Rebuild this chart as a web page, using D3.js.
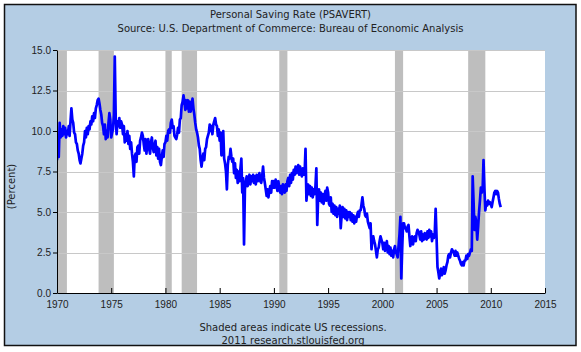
<!DOCTYPE html>
<html>
<head>
<meta charset="utf-8">
<script src="https://cdn.jsdelivr.net/npm/d3@7"></script>
<style>
  body { margin: 0; background: #fff; }
  svg { display: block; font-family: "DejaVu Sans", sans-serif; }
</style>
</head>
<body>
<svg id="chart" width="581" height="352"></svg>
<script>
// monthly personal saving rate, Jan 1970 .. Dec 2010
const startYear = 1970
const saving = [
  // 1970
  8.2, 9.6, 8.4, 10.5, 9.6, 10.1, 9.7, 10.3, 9.8, 10.2, 9.6, 10.0,
  // 1971
  9.8, 10.3, 9.7, 10.6, 11.4, 10.7, 10.5, 9.9, 9.8, 9.3, 9.2, 8.8,
  // 1972
  8.6, 8.2, 8.0, 8.3, 8.6, 9.1, 9.3, 10.0, 9.6, 10.2, 9.8, 10.3,
  // 1973
  10.1, 10.6, 10.4, 10.9, 10.6, 11.1, 10.8, 11.4, 11.6, 11.9, 12.0, 11.7,
  // 1974
  11.3, 11.0, 10.5, 10.3, 9.8, 10.4, 9.5, 10.0, 9.6, 10.5, 11.1, 10.7,
  // 1975
  9.6, 9.9, 10.1, 11.0, 14.6, 10.8, 9.8, 10.6, 10.3, 10.8, 10.2, 10.6,
  // 1976
  10.4, 9.8, 10.3, 9.3, 9.8, 9.4, 10.0, 9.2, 9.7, 8.9, 9.3, 8.6,
  // 1977
  8.1, 7.2, 8.4, 8.6, 8.1, 9.0, 9.1, 8.6, 9.4, 9.6, 9.9, 9.7,
  // 1978
  9.2, 8.8, 9.5, 8.6, 9.2, 9.5, 8.9, 8.6, 9.3, 9.6, 9.0, 8.7,
  // 1979
  9.1, 9.4, 8.5, 9.0, 8.3, 8.9, 8.1, 7.9, 8.4, 8.8, 8.4, 9.2,
  // 1980
  9.3, 9.7, 9.4, 10.0, 10.1, 9.9, 10.5, 10.7, 10.2, 10.3, 9.7, 9.6,
  // 1981
  9.5, 9.8, 10.2, 9.9, 10.7, 10.8, 11.6, 11.8, 12.2, 11.8, 11.3, 11.9,
  // 1982
  11.4, 11.9, 11.2, 11.8, 11.2, 11.6, 12.0, 11.4, 11.0, 10.5, 10.1, 9.9,
  // 1983
  9.6, 9.1, 8.9, 8.2, 7.8, 8.3, 8.6, 8.2, 8.9, 9.0, 9.5, 9.7,
  // 1984
  9.9, 10.4, 10.0, 10.3, 9.8, 10.4, 10.6, 10.8, 10.4, 10.3, 9.7, 10.1,
  // 1985
  9.4, 9.9, 8.5, 9.3, 10.0, 8.3, 8.0, 7.5, 6.4, 7.9, 8.4, 8.3,
  // 1986
  8.9, 8.4, 8.1, 8.3, 7.4, 8.0, 7.1, 7.6, 6.8, 7.5, 6.9, 7.7,
  // 1987
  8.3, 6.2, 7.1, 3.0, 6.4, 6.9, 7.2, 6.6, 7.0, 7.3, 6.7, 7.2,
  // 1988
  6.9, 7.3, 6.8, 7.2, 6.7, 7.3, 6.9, 7.0, 7.4, 6.9, 6.8, 7.2,
  // 1989
  7.8, 7.1, 6.8, 6.4, 6.0, 6.4, 5.9, 6.3, 6.6, 6.2, 6.9, 6.5,
  // 1990
  6.9, 6.5, 7.0, 6.6, 6.3, 6.9, 6.5, 6.2, 6.6, 6.1, 6.7, 6.4,
  // 1991
  6.2, 6.7, 6.3, 6.9, 7.1, 6.6, 7.3, 6.8, 7.4, 7.0, 7.6, 7.3,
  // 1992
  7.8, 7.4, 7.7, 7.9, 7.3, 7.8, 7.4, 7.2, 7.7, 7.3, 7.4, 8.9,
  // 1993
  5.7, 6.4, 6.7, 6.1, 6.6, 6.0, 6.5, 5.9, 6.4, 6.1, 6.6, 7.7,
  // 1994
  4.2, 6.0, 6.4, 5.7, 6.2, 5.6, 6.1, 5.5, 6.0, 6.3, 5.7, 6.5,
  // 1995
  6.2, 5.5, 5.4, 5.9, 5.0, 5.5, 4.9, 5.4, 4.8, 5.3, 4.7, 5.2,
  // 1996
  4.9, 5.4, 4.0, 4.8, 5.3, 4.7, 5.2, 4.6, 5.1, 4.5, 5.0, 4.7,
  // 1997
  5.0, 4.5, 4.9, 4.4, 4.8, 4.3, 4.7, 4.4, 4.8, 5.0, 4.7, 5.1,
  // 1998
  5.1, 5.5, 5.9, 5.4, 5.2, 4.8, 4.7, 4.9, 4.4, 4.2, 4.0, 4.3,
  // 1999
  2.7, 3.3, 3.5, 3.2, 3.0, 2.6, 2.2, 2.7, 2.8, 3.2, 3.5, 3.3,
  // 2000
  3.1, 2.7, 3.1, 2.6, 2.9, 3.2, 2.5, 2.9, 2.4, 2.8, 2.3, 2.6,
  // 2001
  2.2, 2.7, 2.9, 2.5, 2.4, 2.2, 2.9, 3.6, 4.7, 0.9, 2.8, 4.3,
  // 2002
  4.3, 4.0, 4.0, 3.8, 4.1, 4.2, 3.5, 2.9, 3.3, 3.5, 3.0, 3.4,
  // 2003
  3.5, 3.2, 3.7, 3.9, 3.8, 3.6, 3.3, 3.8, 3.2, 3.6, 3.3, 3.7,
  // 2004
  3.6, 3.3, 3.8, 3.4, 3.9, 3.5, 3.8, 3.2, 3.6, 3.4, 3.7, 5.2,
  // 2005
  3.4, 1.6, 1.3, 0.9, 1.2, 1.5, 1.1, 1.3, 1.6, 1.2, 1.4, 1.7,
  // 2006
  1.9, 2.3, 2.4, 2.2, 2.5, 2.7, 2.6, 2.5, 2.3, 2.6, 2.3, 2.5,
  // 2007
  2.3, 2.1, 2.0, 1.8, 1.7, 1.9, 1.7, 2.0, 2.0, 2.3, 2.1, 2.4,
  // 2008
  2.3, 2.5, 2.7, 2.6, 7.2, 5.6, 3.9, 4.7, 4.3, 3.3, 4.1, 5.0,
  // 2009
  5.7, 6.5, 6.2, 6.4, 8.2, 6.4, 5.1, 5.6, 5.4, 5.7, 5.5, 5.6,
  // 2010
  5.5, 5.3, 5.6, 5.9, 6.2, 6.3, 6.1, 6.3, 6.2, 5.8, 5.5, 5.3
]

// NBER recessions: peak month, trough month
const recessions = [
  ["1969-12", "1970-11"],
  ["1973-11", "1975-03"],
  ["1980-01", "1980-07"],
  ["1981-07", "1982-11"],
  ["1990-07", "1991-03"],
  ["2001-03", "2001-11"],
  ["2007-12", "2009-06"]
]

const yTicks = [0, 2.5, 5, 7.5, 10, 12.5, 15]
const xTickYears = [1970, 1975, 1980, 1985, 1990, 1995, 2000, 2005, 2010, 2015]

const titleLines = ["Personal Saving Rate (PSAVERT)",
  "Source: U.S. Department of Commerce: Bureau of Economic Analysis"]
const footLines = ["Shaded areas indicate US recessions.", "2011 research.stlouisfed.org"]

const svg = d3.select("#chart")
const margin = {top: 50, right: 36, bottom: 59, left: 57}
const width = 581, height = 352

// frame
svg.append("rect")
    .attr("x", 4.5).attr("y", 4.5)
    .attr("width", 571.5).attr("height", 341)
    .attr("fill", "#b4cde4")
    .attr("stroke", "#111").attr("stroke-width", 1.5)

const parseMonth = d3.timeParse("%Y-%m")
const data = saving.map((v, i) => [new Date(startYear + Math.floor(i / 12), i % 12, 1), v])

const x = d3.scaleTime()
    .domain([new Date(1970, 0, 1), new Date(2015, 0, 1)])
    .range([margin.left, width - margin.right])
const y = d3.scaleLinear()
    .domain([0, 15])
    .range([height - margin.bottom, margin.top])

// plot background
svg.append("rect")
    .attr("x", x.range()[0]).attr("y", y(15))
    .attr("width", x.range()[1] - x.range()[0])
    .attr("height", y(0) - y(15))
    .attr("fill", "#fff")

svg.append("clipPath").attr("id", "clip")
  .append("rect")
    .attr("x", x.range()[0]).attr("y", y(15))
    .attr("width", x.range()[1] - x.range()[0])
    .attr("height", y(0) - y(15))

// recession bars
svg.append("g")
    .attr("clip-path", "url(#clip)")
  .selectAll("rect")
  .data(recessions)
  .join("rect")
    .attr("x", d => x(parseMonth(d[0])))
    .attr("width", d => x(d3.timeMonth.offset(parseMonth(d[1]), 1)) - x(parseMonth(d[0])))
    .attr("y", y(15))
    .attr("height", y(0) - y(15))
    .attr("fill", "#bebebe")

// grid
svg.append("g")
  .selectAll("line")
  .data(yTicks.filter(d => d > 0))
  .join("line")
    .attr("x1", x.range()[0]).attr("x2", x.range()[1])
    .attr("y1", d => Math.round(y(d)) + 0.5).attr("y2", d => Math.round(y(d)) + 0.5)
    .attr("stroke", "#c8c8c8")

// series
const line = d3.line()
    .x(d => x(d[0]))
    .y(d => y(d[1]))

svg.append("path")
    .datum(data)
    .attr("clip-path", "url(#clip)")
    .attr("fill", "none")
    .attr("stroke", "#0000ff")
    .attr("stroke-width", 2.7)
    .attr("stroke-linejoin", "round")
    .attr("d", line)

// axes
let xAxis = g => g
    .attr("transform", `translate(0,${y(0)})`)
    .call(d3.axisBottom(x)
        .tickValues(xTickYears.map(yr => new Date(yr, 0, 1)))
        .tickFormat(d3.timeFormat("%Y"))
        .tickSize(-5).tickSizeOuter(0).tickPadding(8))
    .call(g => g.selectAll("text").attr("font-size", 10).attr("fill", "#222").attr("font-family", null))

let yAxis = g => g
    .attr("transform", `translate(${margin.left},0)`)
    .call(d3.axisLeft(y)
        .tickValues(yTicks)
        .tickFormat(d3.format(".1f"))
        .tickSize(4).tickSizeOuter(0).tickPadding(2))
    .call(g => g.selectAll("text").attr("font-size", 10).attr("fill", "#222").attr("font-family", null))

svg.append("g").call(xAxis)
svg.append("g").call(yAxis)

svg.append("text")
    .attr("transform", `translate(15,${(y(0) + y(15)) / 2 + 15}) rotate(-90)`)
    .attr("text-anchor", "middle")
    .attr("font-size", 10)
    .attr("fill", "#222")
    .text("(Percent)")

svg.append("g")
  .selectAll("text")
  .data(titleLines)
  .join("text")
    .attr("x", width / 2)
    .attr("y", (d, i) => 18 + i * 14)
    .attr("text-anchor", "middle")
    .attr("font-size", 10)
    .attr("fill", "#222")
    .text(d => d)

svg.append("g")
  .selectAll("text")
  .data(footLines)
  .join("text")
    .attr("x", 293)
    .attr("y", (d, i) => 331 + i * 13)
    .attr("text-anchor", "middle")
    .attr("font-size", 10)
    .attr("fill", "#222")
    .text(d => d)
</script>
</body>
</html>
